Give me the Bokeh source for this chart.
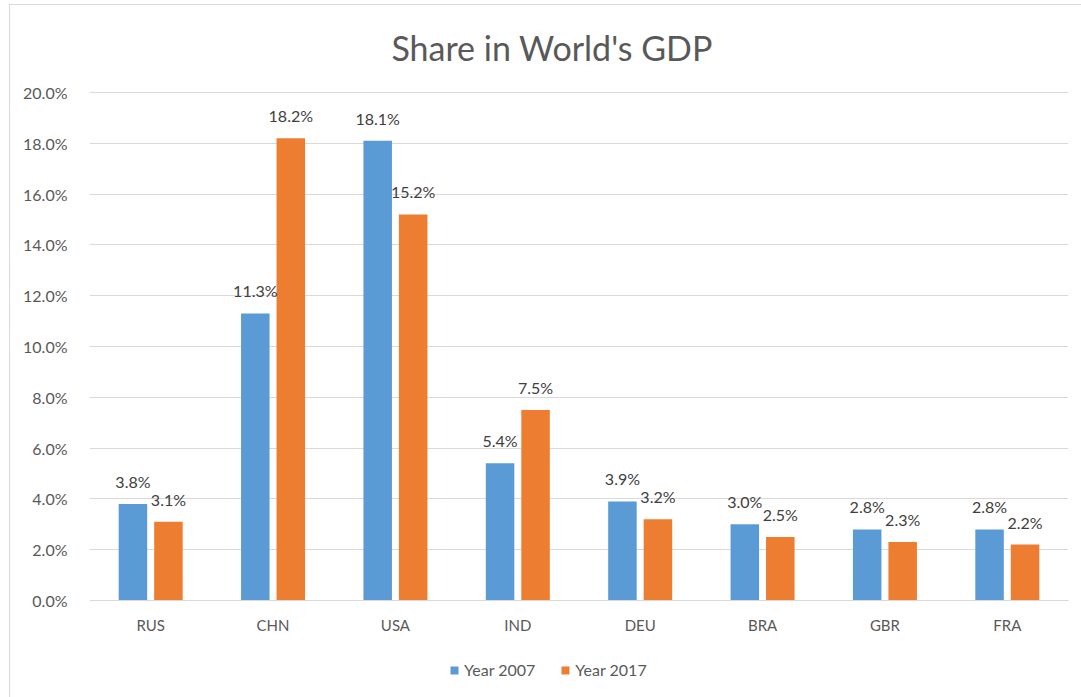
from bokeh.plotting import figure
from bokeh.models import (ColumnDataSource, Range1d, FixedTicker, PrintfTickFormatter,
                          Legend, LegendItem, Label)
from bokeh.transform import dodge
from bokeh.core.properties import value
from bokeh.embed import file_html
from bokeh.resources import INLINE

countries = ["RUS", "CHN", "USA", "IND", "DEU", "BRA", "GBR", "FRA"]
share_2007 = [3.8, 11.3, 18.1, 5.4, 3.9, 3.0, 2.8, 2.8]
share_2017 = [3.1, 18.2, 15.2, 7.5, 3.2, 2.5, 2.3, 2.2]
y_ticks = [0, 2, 4, 6, 8, 10, 12, 14, 16, 18, 20]
series_names = ["Year 2007", "Year 2017"]
title_text = "Share in World's GDP"

BLUE = "#5B9BD5"
ORANGE = "#ED7D31"
FONT = "Lato"
PX = 25.4  # pixels per percentage point

src = ColumnDataSource(dict(
    cat=countries,
    v07=share_2007,
    v17=share_2017,
    t07=[f"{v:.1f}%" for v in share_2007],
    t17=[f"{v:.1f}%" for v in share_2017],
))

# the frame fills the canvas top-to-bottom so that title, category axis and
# legend can all be drawn inside it
p = figure(x_range=countries, y_range=Range1d(-98 / PX, 20 + 87 / PX), width=1072, height=693,
           output_backend="svg", toolbar_location=None,
           min_border_left=79, min_border_right=14, min_border_top=0, min_border_bottom=0)
p.title_location = None
p.margin = (4, 0, 0, 9)
p.styles = {"border-left": "1px solid #d9d9d9", "border-top": "1px solid #d9d9d9"}
p.outline_line_color = None
p.background_fill_color = "white"
p.border_fill_color = "white"
p.x_range.range_padding = 0

p.xgrid.grid_line_color = None
p.ygrid.grid_line_color = "#d9d9d9"
p.ygrid.grid_line_width = 1

p.yaxis.ticker = FixedTicker(ticks=y_ticks)
p.yaxis.formatter = PrintfTickFormatter(format="%.1f%%")
p.yaxis.axis_line_color = None
p.yaxis.major_tick_line_color = None
p.yaxis.minor_tick_line_color = None
p.yaxis.major_label_standoff = 16
p.yaxis.major_label_text_font = FONT
p.yaxis.major_label_text_font_size = "16px"
p.yaxis.major_label_text_color = "#595959"

p.xaxis.fixed_location = 0
p.xaxis.axis_line_color = "#d9d9d9"
p.xaxis.major_tick_line_color = None
p.xaxis.minor_tick_line_color = None
p.xaxis.major_label_standoff = 9
p.xaxis.major_label_text_font = FONT
p.xaxis.major_label_text_font_size = "15px"
p.xaxis.major_label_text_color = "#595959"

W = 0.233
OFF = 0.145
r1 = p.vbar(x=dodge("cat", -OFF, range=p.x_range), top="v07", width=W, source=src,
            fill_color=BLUE, line_color=None)
r2 = p.vbar(x=dodge("cat", OFF, range=p.x_range), top="v17", width=W, source=src,
            fill_color=ORANGE, line_color=None)

for col, tcol, off in (("v07", "t07", -OFF), ("v17", "t17", OFF)):
    p.text(x=dodge("cat", off, range=p.x_range), y=col, text=tcol, source=src,
           text_align="center", text_baseline="bottom", y_offset=-13,
           text_font=value(FONT), text_font_size="16px", text_color="#404040")

title = Label(x=3.78, y=20 + 45 / PX, text=title_text, text_align="center",
              text_baseline="middle", text_font=FONT, text_font_size="34px",
              text_color="#595959")
p.add_layout(title)

legend = Legend(items=[LegendItem(label=series_names[0], renderers=[r1]),
                       LegendItem(label=series_names[1], renderers=[r2])],
                orientation="horizontal", location=(360, 19))
legend.glyph_width = 10
legend.glyph_height = 10
legend.label_text_font = FONT
legend.label_text_font_size = "16px"
legend.label_text_color = "#595959"
legend.label_standoff = 5
legend.spacing = 25
legend.padding = 0
legend.margin = 0
legend.border_line_color = None
legend.background_fill_alpha = 0
p.add_layout(legend)

open("out.html", "w").write(file_html(p, INLINE))
